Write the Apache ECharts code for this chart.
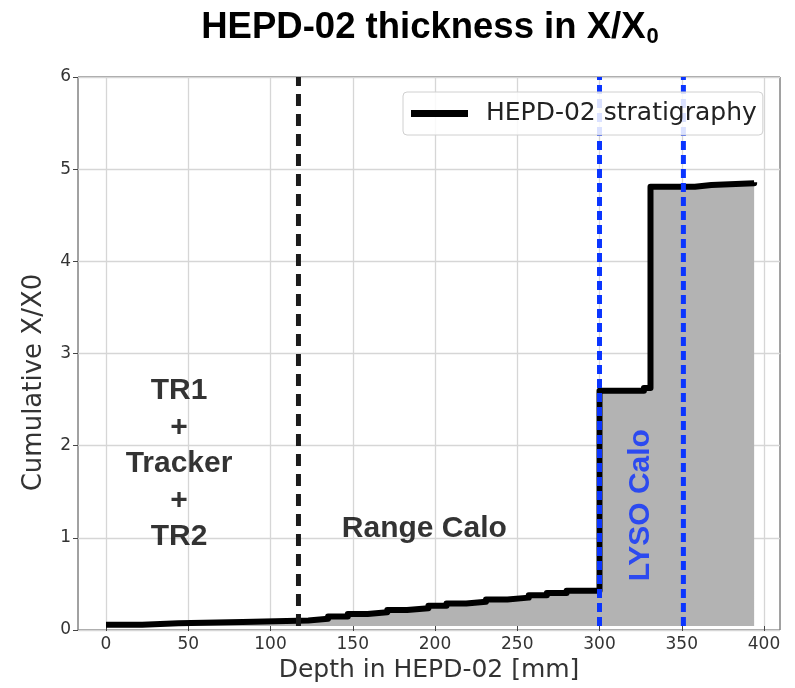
<!DOCTYPE html>
<html>
<head>
<meta charset="utf-8">
<script src="https://cdn.jsdelivr.net/npm/echarts@6/dist/echarts.min.js"></script>
<style>
html,body{margin:0;padding:0;background:#fff;}
#chart{width:795px;height:688px;}
</style>
</head>
<body>
<div id="chart"></div>
<script>
// ---- data ----
const depthMm = [0, 22, 44, 83, 123, 135, 147, 159, 171, 183, 196, 207, 219, 231, 244, 257, 268, 280, 300, 327, 331, 358, 368, 394];
const cumulativeX0 = [0.015, 0.03, 0.045, 0.06, 0.08, 0.105, 0.13, 0.15, 0.175, 0.195, 0.22, 0.245, 0.265, 0.29, 0.31, 0.335, 0.36, 0.385, 2.57, 2.60, 4.80, 4.82, 4.84, 4.85];
const trackerEnd = [117];
const lysoBounds = [300, 351];
const xTicks = [0, 50, 100, 150, 200, 250, 300, 350, 400];
const yTicks = [0, 1, 2, 3, 4, 5, 6];
const regionLabels = ['TR1\n+\nTracker\n+\nTR2', 'Range Calo'];
const regionLabelAt = [[44.4, 1.77], [193.5, 1.06]];
const lysoLabel = ['LYSO Calo'];
const lysoLabelAt = [[325, 1.32]];

const curve = depthMm.map((d, i) => [d, cumulativeX0[i]]);

const chart = echarts.init(document.getElementById('chart'), null, {renderer: 'canvas'});
const tickFont = {fontFamily: 'DejaVu Sans', fontSize: 17, color: '#333'};
const annotLabel = {
  show: true, position: 'inside',
  fontFamily: 'Liberation Sans', fontWeight: 'bold', fontSize: 30,
  align: 'center', verticalAlign: 'middle',
  textBorderWidth: 0, textBorderColor: 'transparent', textShadowBlur: 0
};

const option = {
  animation: false,
  backgroundColor: '#fff',
  title: {
    text: '{a|HEPD-02 thickness in X/X}{b|0}',
    left: 425, textAlign: 'center', top: 4,
    textStyle: {
      rich: {
        a: {fontFamily: 'Liberation Sans', fontWeight: 'bold', fontSize: 36.5, color: '#000'},
        b: {fontFamily: 'Liberation Sans', fontWeight: 'bold', fontSize: 22, color: '#000', verticalAlign: 'bottom', padding: [0, 0, -2, 1]}
      }
    }
  },
  legend: {
    data: [{name: 'HEPD-02 stratigraphy', icon: 'rect'}],
    left: 403, top: 92, z: 20,
    padding: [9, 6, 9, 8],
    itemWidth: 57, itemHeight: 7,
    backgroundColor: 'rgba(255,255,255,0.85)',
    borderColor: '#d0d0d0', borderWidth: 1, borderRadius: 4,
    itemStyle: {color: '#000'},
    textStyle: {fontFamily: 'DejaVu Sans', fontSize: 25, color: '#222', padding: [0, 0, 0, 13]}
  },
  grid: [
    {left: 78, right: 15, top: 77, bottom: 58, show: true, borderColor: '#444', borderWidth: 1, backgroundColor: 'transparent'},
    {left: 106, right: 31, top: 77, bottom: 58}
  ],
  xAxis: [
    {gridIndex: 0, type: 'value', min: 0, max: 1, show: false},
    {
      gridIndex: 1, type: 'value', min: xTicks[0], max: xTicks[xTicks.length - 1], interval: 50,
      name: 'Depth in HEPD-02 [mm]', nameLocation: 'middle', nameGap: 32,
      nameTextStyle: {fontFamily: 'DejaVu Sans', fontSize: 25, color: '#333', padding: [0, 12, 0, 0]},
      axisLine: {show: false},
      axisTick: {show: true, inside: false, length: 5, lineStyle: {color: '#444'}},
      axisLabel: Object.assign({margin: 10}, tickFont),
      splitLine: {show: true, lineStyle: {color: '#d6d6d6', width: 1.3}}
    }
  ],
  yAxis: [
    {
      gridIndex: 0, type: 'value', min: yTicks[0], max: yTicks[yTicks.length - 1], interval: 1,
      name: 'Cumulative X/X0', nameLocation: 'middle', nameGap: 31,
      nameTextStyle: {fontFamily: 'DejaVu Sans', fontSize: 26, color: '#333', padding: [0, 58, 0, 0]},
      axisLine: {show: false},
      axisTick: {show: true, inside: false, length: 5, lineStyle: {color: '#444'}},
      axisLabel: Object.assign({margin: 7}, tickFont),
      splitLine: {show: true, lineStyle: {color: '#d6d6d6', width: 1.3}}
    },
    {gridIndex: 1, type: 'value', min: yTicks[0], max: yTicks[yTicks.length - 1], show: false}
  ],
  series: [
    {
      name: 'HEPD-02 stratigraphy', type: 'line', xAxisIndex: 1, yAxisIndex: 1,
      step: 'end', symbol: 'none', data: curve, z: 3,
      itemStyle: {color: '#000'},
      lineStyle: {color: '#000', width: 6, join: 'round'},
      areaStyle: {color: '#b3b3b3', opacity: 1}
    },
    {
      type: 'line', xAxisIndex: 1, yAxisIndex: 1, symbol: 'none', z: 4, silent: true,
      data: [[trackerEnd[0], 0], [trackerEnd[0], 6]],
      lineStyle: {color: '#1a1a1a', width: 5, type: [12, 8]}
    },
    {
      type: 'line', xAxisIndex: 1, yAxisIndex: 1, symbol: 'none', z: 5, silent: true,
      data: [[lysoBounds[0], 0], [lysoBounds[0], 6]],
      lineStyle: {color: '#0a35ff', width: 5, type: [9, 5]}
    },
    {
      type: 'line', xAxisIndex: 1, yAxisIndex: 1, symbol: 'none', z: 5, silent: true,
      data: [[lysoBounds[1], 0], [lysoBounds[1], 6]],
      lineStyle: {color: '#0a35ff', width: 5, type: [9, 5]}
    },
    {
      type: 'scatter', xAxisIndex: 1, yAxisIndex: 1, symbolSize: 0, z: 6, silent: true,
      itemStyle: {color: 'transparent'},
      data: regionLabelAt.map((p, i) => ({value: p, name: regionLabels[i]})),
      label: Object.assign({formatter: p => p.name, color: '#000', lineHeight: 36.5}, annotLabel)
    },
    {
      type: 'scatter', xAxisIndex: 1, yAxisIndex: 1, symbolSize: 0, z: 6, silent: true,
      itemStyle: {color: 'transparent'},
      data: lysoLabelAt.map((p, i) => ({value: p, name: lysoLabel[i]})),
      label: Object.assign({formatter: p => p.name, color: '#0a30ff', rotate: 90}, annotLabel)
    }
  ]
};
chart.setOption(option);
</script>
</body>
</html>
